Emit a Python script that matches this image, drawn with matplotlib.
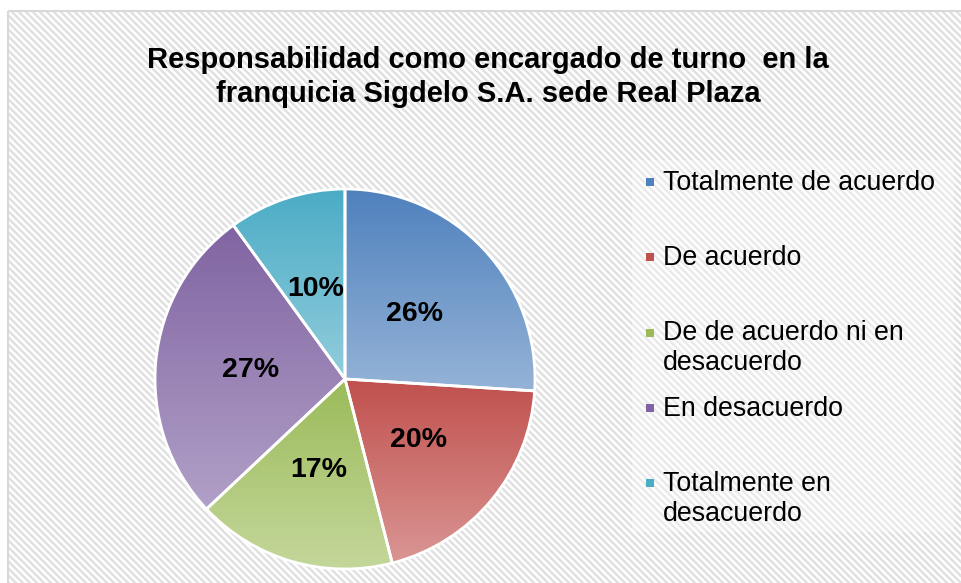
import numpy as np
import matplotlib
matplotlib.use("Agg")
import matplotlib.pyplot as plt
from matplotlib.colors import LinearSegmentedColormap
from matplotlib.patches import Rectangle

plt.rcParams['font.family'] = ['Liberation Sans', 'DejaVu Sans']

title = "Responsabilidad como encargado de turno  en la\nfranquicia Sigdelo S.A. sede Real Plaza"
categories = ["Totalmente de acuerdo", "De acuerdo",
              "De de acuerdo ni en\ndesacuerdo", "En desacuerdo",
              "Totalmente en\ndesacuerdo"]
shares = [26, 20, 17, 27, 10]
dark_colors = ["#4F81BD", "#C0504D", "#9BBB59", "#8064A2", "#4BACC6"]
light_colors = ["#95B3D7", "#DA9694", "#C4D79B", "#B1A0C7", "#92CDDC"]

W, H = 962, 583
fig = plt.figure(figsize=(W / 100, H / 100), dpi=100)

# background: diagonal stripe texture inside a light grey frame
bg = fig.add_axes([0, 0, 1, 1], zorder=-5)
rows, cols = np.mgrid[0:H, 0:W]
phase = ((cols - rows) % 7) / 7.0
stripe = np.clip(0.5 + 0.9 * np.cos(2 * np.pi * phase), 0, 1)
img = 1 - stripe * (30 / 255)
img[:10, :] = 1
img[:, :8] = 1
bg.imshow(img, cmap="gray", vmin=0, vmax=1, extent=[0, W, H, 0],
          interpolation="nearest", aspect="auto")
bg.add_patch(Rectangle((8.5, 10.5), W, H, fill=False, edgecolor="#d9d9d9", lw=1.5))
# legend area is a bit lighter
bg.add_patch(Rectangle((632, 160), 322, 372, facecolor="white", alpha=0.3, lw=0))
bg.set_xlim(0, W)
bg.set_ylim(H, 0)
bg.axis("off")

# pie: centre (345, 379) px, radius 190 px
cx, cy, r = 345, 379, 190
lim = 1.05
side = 2 * r * lim
ax = fig.add_axes([(cx - side / 2) / W, (H - cy - side / 2) / H, side / W, side / H])
wedges, texts, autotexts = ax.pie(
    shares, startangle=90, counterclock=False,
    autopct=lambda p: f"{p:.0f}%", pctdistance=0.5,
    wedgeprops=dict(edgecolor="white", linewidth=2.0, facecolor="none"),
    textprops=dict(fontsize=20.5, fontweight="bold", color="black"))

for w, c0, c1 in zip(wedges, dark_colors, light_colors):
    ext = w.get_path().get_extents()
    cmap = LinearSegmentedColormap.from_list("g", [c0, c1])
    grad = np.linspace(0, 1, 256).reshape(-1, 1)
    im = ax.imshow(grad, cmap=cmap, extent=[ext.x0, ext.x1, ext.y0, ext.y1],
                   origin="upper", aspect="auto", zorder=0.5)
    im.set_clip_path(w)
    w.set_zorder(1)
for t in autotexts:
    t.set_zorder(3)

ax.set_xlim(-lim, lim)
ax.set_ylim(-lim, lim)
ax.set_aspect("equal")
ax.axis("off")

# title, one line at a time so the baselines land where they should
for j, line in enumerate(title.split("\n")):
    fig.text(488 / W, 1 - (68.5 + 33.2 * j) / H, line, ha="center",
             va="baseline", fontsize=21, fontweight="bold")

# legend, entries evenly spaced like the original
for i, (lab, c0) in enumerate(zip(categories, dark_colors)):
    base = 190 + 75.25 * i
    for j, line in enumerate(lab.split("\n")):
        fig.text(663 / W, 1 - (base + 30 * j) / H, line, ha="left",
                 va="baseline", fontsize=19.3)
    fig.patches.append(Rectangle((646 / W, 1 - (base - 4) / H), 8 / W, 8 / H,
                                 transform=fig.transFigure, facecolor=c0,
                                 edgecolor="none"))

fig.savefig("out.png", dpi=100)
